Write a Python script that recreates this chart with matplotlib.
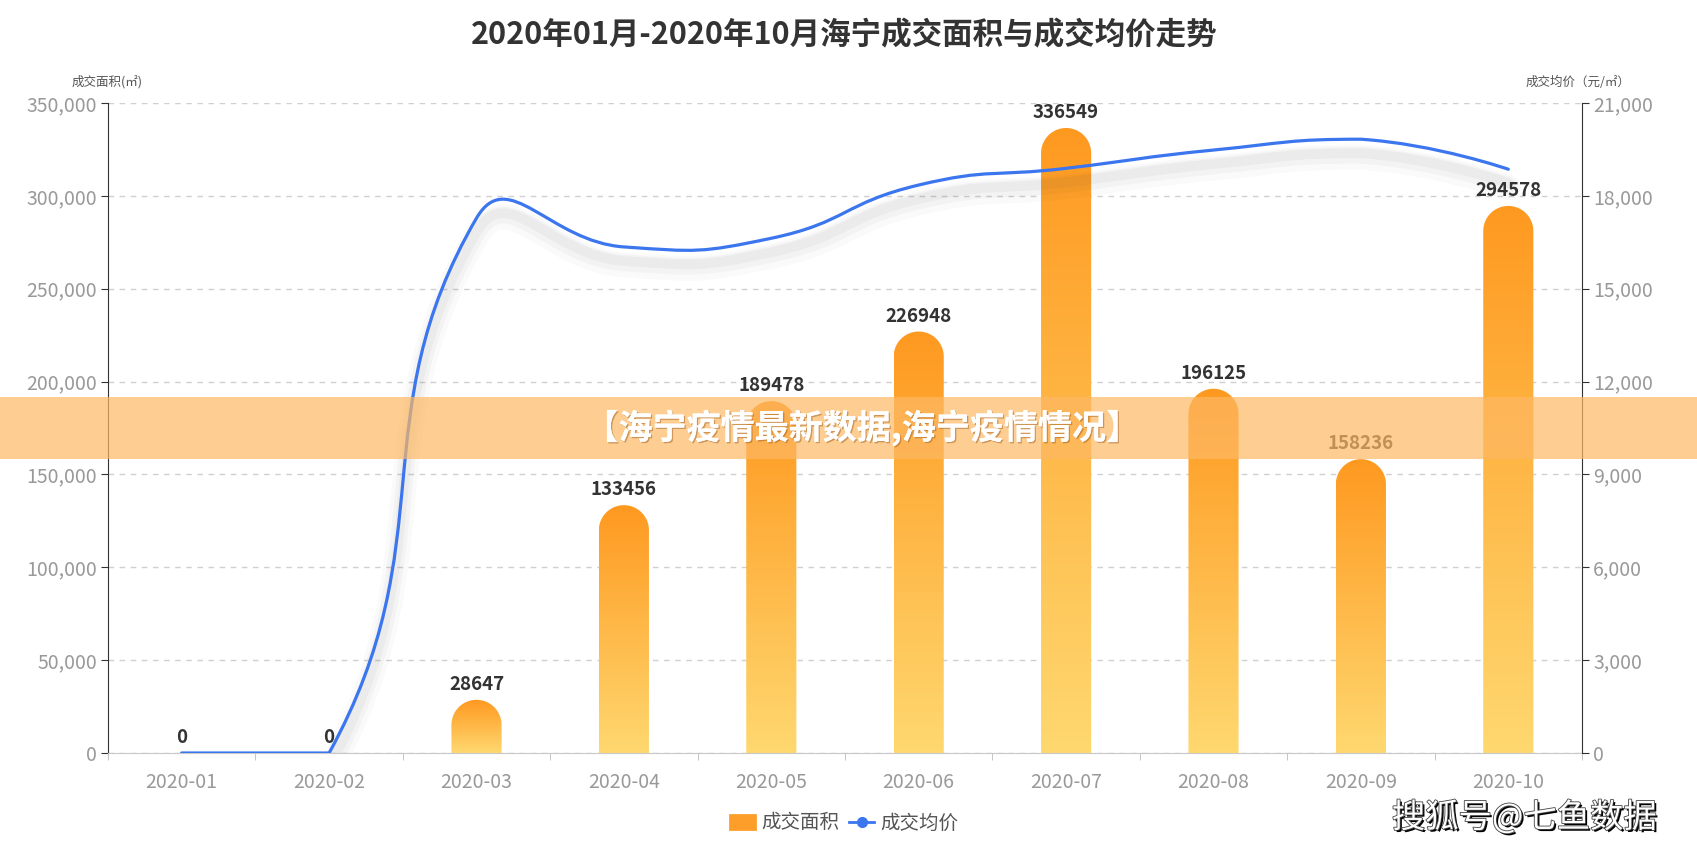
"""
海宁 2020-01 ~ 2020-10 成交面积 (bars) 与成交均价 (smoothed line) 走势图.
"""

import numpy as np
import matplotlib
matplotlib.use('Agg')
import matplotlib.pyplot as plt
from matplotlib.path import Path
from matplotlib.patches import PathPatch, Patch, Rectangle
from matplotlib.lines import Line2D
from matplotlib import transforms
import matplotlib.patheffects as pe

plt.rcParams['font.family'] = ['Noto Sans CJK SC', 'DejaVu Sans']

# ---- data ----
months = ['2020-01', '2020-02', '2020-03', '2020-04', '2020-05',
          '2020-06', '2020-07', '2020-08', '2020-09', '2020-10']
area = [0, 0, 28647, 133456, 189478, 226948, 336549, 196125, 158236, 294578]
price = [0, 0, 17280, 16350, 16630, 18350, 18890, 19480, 19830, 18860]

area_ticks = [0, 50000, 100000, 150000, 200000, 250000, 300000, 350000]
price_ticks = [0, 3000, 6000, 9000, 12000, 15000, 18000, 21000]

title = '2020年01月-2020年10月海宁成交面积与成交均价走势'
banner = '【海宁疫情最新数据,海宁疫情情况】'
watermark = '搜狐号@七鱼数据'

# ---- colours ----
bar_top = np.array([254, 153, 32]) / 255
bar_bottom = np.array([255, 216, 112]) / 255
line_color = '#3B76EF'
tick_gray = '#999999'
dark = '#333333'

W, H = 1697, 857
fig = plt.figure(figsize=(W / 100, H / 100), dpi=100)
ax = fig.add_axes([108 / W, 1 - 753 / H, 1474 / W, 650 / H])
ax2 = ax.twinx()

x = np.arange(len(months))
ax.set_xlim(-0.5, len(months) - 0.5)
ax.set_ylim(0, area_ticks[-1])
ax2.set_ylim(0, price_ticks[-1])

# ---- bars: vertical gradient clipped to a round-topped shape ----
bar_w = 0.34
rx = bar_w / 2
ax_w_px = 1474
ax_h_px = 650
ry = rx * (ax_w_px / len(months)) / (ax_h_px / area_ticks[-1])

t = np.linspace(0, 1, 256)[:, None, None]
grad = bar_bottom + (bar_top - bar_bottom) * t

for xi, v in zip(x, area):
    if v > 0:
        x0, x1 = xi - rx, xi + rx
        ang = np.linspace(np.pi, 0, 40)
        arc = np.column_stack([xi + rx * np.cos(ang), v - ry + ry * np.sin(ang)])
        verts = np.vstack([[x0, 0], arc, [x1, 0], [x0, 0]])
        codes = [Path.MOVETO] + [Path.LINETO] * (len(verts) - 2) + [Path.CLOSEPOLY]
        clip = PathPatch(Path(verts, codes), transform=ax.transData,
                         facecolor='none', edgecolor='none')
        im = ax.imshow(grad, extent=(x0, x1, 0, v), origin='lower',
                       aspect='auto', interpolation='bilinear', zorder=2)
        im.set_clip_path(clip)
    ax.annotate(f'{v}', (xi, v), xytext=(0, 11), textcoords='offset points',
                ha='center', va='center', fontsize=13.5, fontweight='bold',
                color=dark, zorder=5)

ax.set_xlim(-0.5, len(months) - 0.5)
ax.set_ylim(0, area_ticks[-1])

# ---- smoothed price line (echarts-style bezier, smooth=0.5) ----
pts = ax2.transData.transform(np.column_stack([x, price]))
lo, hi = pts.min(axis=0), pts.max(axis=0)
smooth = 0.5
cps = [pts[0]]
for i in range(1, len(pts) - 1):
    prev_p, p, next_p = pts[i - 1], pts[i], pts[i + 1]
    v = (next_p - prev_p) * smooth
    d0 = np.hypot(*(p - prev_p))
    d1 = np.hypot(*(p - next_p))
    s = d0 + d1
    if s > 0:
        d0, d1 = d0 / s, d1 / s
    cp0 = np.clip(p - v * d0, lo, hi)
    cp1 = np.clip(p + v * d1, lo, hi)
    cps += [cp0, cp1]
cps.append(pts[-1])

verts = [pts[0]]
codes = [Path.MOVETO]
for i in range(len(pts) - 1):
    verts += [cps[2 * i], cps[2 * i + 1], pts[i + 1]]
    codes += [Path.CURVE4] * 3
verts = ax2.transData.inverted().transform(np.array(verts))
line_path = Path(verts, codes)

# soft shadow below the line
for dy, lw, a in [(-18, 18, 0.025), (-16, 12, 0.035), (-14, 7, 0.045)]:
    shadow_tr = transforms.offset_copy(ax2.transData, fig=fig, x=0, y=dy, units='dots')
    ax2.add_patch(PathPatch(line_path, transform=shadow_tr, facecolor='none',
                            edgecolor='#404040', lw=lw, alpha=a,
                            capstyle='round', joinstyle='round', zorder=3))
ax2.add_patch(PathPatch(line_path, facecolor='none', edgecolor=line_color,
                        lw=2.3, capstyle='round', joinstyle='round', zorder=4))

# ---- axes styling ----
ax.set_xticks(x)
ax.set_xticklabels(months)
ax.set_xticks(np.arange(-0.5, len(months), 1), minor=True)
ax.tick_params(axis='x', which='major', length=0, pad=14, labelsize=14,
               labelcolor=tick_gray)
ax.tick_params(axis='x', which='minor', length=5, color='#bbbbbb')

ax.set_yticks(area_ticks)
ax.set_yticklabels([f'{v:,}' for v in area_ticks])
ax.tick_params(axis='y', length=5, color=dark, labelsize=14,
               labelcolor=tick_gray, pad=3)

ax2.set_yticks(price_ticks)
ax2.set_yticklabels([f'{v:,}' for v in price_ticks])
ax2.tick_params(axis='y', length=5, color=dark, labelsize=14,
                labelcolor=tick_gray, pad=3)

ax.yaxis.grid(True, linestyle=(0, (4, 4)), color='#d0d0d0', lw=1)
ax.set_axisbelow(True)

for a in (ax, ax2):
    a.spines['top'].set_visible(False)
ax.spines['right'].set_visible(False)
ax.spines['left'].set_color(dark)
ax.spines['bottom'].set_color('#c8c8c8')
ax2.spines['left'].set_visible(False)
ax2.spines['bottom'].set_visible(False)
ax2.spines['right'].set_color(dark)

# axis names above the y axes
fig.text(107 / W, 1 - 82 / H, '成交面积(㎡)', ha='center', va='center',
         fontsize=9, color='#555555')
fig.text(1578 / W, 1 - 82 / H, '成交均价（元/㎡）', ha='center', va='center',
         fontsize=9, color='#555555')

fig.text(844 / W, 1 - 35 / H, title, ha='center', va='center',
         fontsize=22, fontweight='bold', color=dark)

# legend
handles = [Patch(facecolor='#FE9E2A', edgecolor='#FE9E2A', lw=2, joinstyle='round'),
           Line2D([], [], color=line_color, lw=2, marker='o', markersize=7)]
fig.legend(handles, ['成交面积', '成交均价'], loc='center',
           bbox_to_anchor=(844 / W, 1 - 823 / H), ncol=2, frameon=False,
           fontsize=14, labelcolor='#555555', handlelength=1.3,
           handleheight=0.7, handletextpad=0.3, columnspacing=0.5)

# overlay banner across the chart
fig.add_artist(Rectangle((0, 1 - 459 / H), 1, 62 / H, transform=fig.transFigure,
                         facecolor='#FDB863', edgecolor='none', alpha=0.7, zorder=20))
fig.text(862 / W, 1 - 428 / H, banner, ha='center', va='center', fontsize=24.5,
         fontweight='bold', color='white', zorder=21,
         path_effects=[pe.withSimplePatchShadow(offset=(1, -1), shadow_rgbFace='#a06020',
                                                alpha=0.5), pe.Normal()])

# watermark
fig.text(1657 / W, 1 - 818 / H, watermark, ha='right', va='center', fontsize=24,
         color='white', zorder=21,
         path_effects=[pe.withSimplePatchShadow(offset=(1.5, -1.5), shadow_rgbFace='black',
                                                alpha=1.0),
                       pe.Stroke(linewidth=1.2, foreground='#444444'), pe.Normal()])

fig.savefig('out.png', dpi=100)
